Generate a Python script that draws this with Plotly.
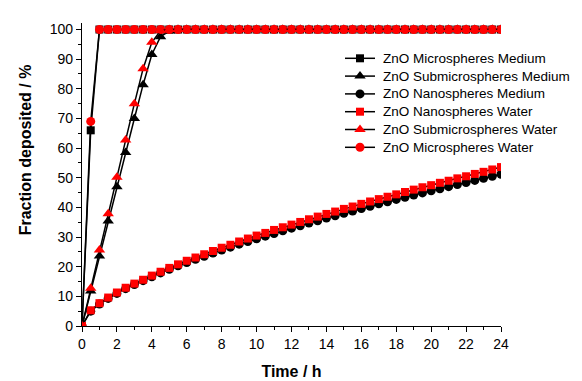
import plotly.graph_objects as go

time_h = [i * 0.5 for i in range(49)]

micro_medium = [0, 66] + [100] * 47
micro_water = [0, 69] + [100] * 47

submicro_medium = [0, 11.8, 23.6, 35.4, 47.0, 58.5, 70.0, 81.4, 91.6, 97.6, 99.5] + [100] * 38
submicro_water = [0, 12.7, 25.6, 37.9, 50.2, 62.7, 75.0, 86.8, 95.7, 99.6] + [100] * 39

nano_water = [0, 5.3, 7.7, 9.6, 11.3, 12.9, 14.3, 15.6, 17.0, 18.3, 19.6, 20.8, 22.0, 23.1,
              24.2, 25.3, 26.4, 27.4, 28.5, 29.5, 30.5, 31.4, 32.4, 33.3, 34.2, 35.1, 36.0,
              36.9, 37.8, 38.6, 39.5, 40.3, 41.2, 42.0, 42.8, 43.6, 44.4, 45.2, 46.0, 46.8,
              47.5, 48.3, 49.0, 49.8, 50.5, 51.3, 52.0, 52.8, 53.6]
nano_medium = [0, 5.0, 7.4, 9.3, 11.0, 12.6, 14.0, 15.3, 16.6, 17.9, 19.1, 20.3, 21.4, 22.5,
               23.5, 24.6, 25.6, 26.6, 27.6, 28.5, 29.4, 30.3, 31.2, 32.1, 33.0, 33.8, 34.7,
               35.5, 36.4, 37.2, 38.0, 38.8, 39.6, 40.4, 41.2, 41.9, 42.7, 43.4, 44.2, 44.9,
               45.6, 46.3, 47.0, 47.7, 48.4, 49.1, 49.8, 50.5, 51.2]

series_names = ["ZnO Microspheres Medium", "ZnO Submicrospheres Medium", "ZnO Nanospheres Medium",
                "ZnO Nanospheres Water", "ZnO Submicrospheres Water", "ZnO Microspheres Water"]
series_values = [micro_medium, submicro_medium, nano_medium, nano_water, submicro_water, micro_water]
series_symbols = ["square", "triangle-up", "circle", "square", "triangle-up", "circle"]
series_colors = ["black", "black", "black", "#ff0000", "#ff0000", "#ff0000"]
draw_order = [0, 1, 2, 3, 5, 4]
symbol_sizes = {"square": 8, "triangle-up": 10, "circle": 9}

FONT = "Liberation Sans, Arial"

fig = go.Figure()
for k in draw_order:
    sym = series_symbols[k]
    fig.add_trace(go.Scatter(
        x=time_h, y=series_values[k], name=series_names[k], mode="lines+markers",
        line=dict(color="black", width=1.5),
        marker=dict(symbol=sym, color=series_colors[k], size=symbol_sizes[sym], line=dict(width=0)),
        showlegend=False,
    ))

# custom legend on an overlay axis measured in page pixels
PL, PR, PT, PB = 82, 501, 23, 326
leg_x0, leg_x1, leg_text_x = 345, 375, 381
leg_y0, leg_dy = 58.3, 17.8
for i, (name, sym, col) in enumerate(zip(series_names, series_symbols, series_colors)):
    yy = leg_y0 + i * leg_dy
    fig.add_trace(go.Scatter(
        x=[leg_x0, (leg_x0 + leg_x1) / 2, leg_x1], y=[yy, yy, yy],
        xaxis="x2", yaxis="y2", mode="lines", line=dict(color="black", width=1.5),
        showlegend=False, hoverinfo="skip"))
    fig.add_trace(go.Scatter(
        x=[(leg_x0 + leg_x1) / 2], y=[yy], xaxis="x2", yaxis="y2", mode="markers",
        marker=dict(symbol=sym, color=col, size=symbol_sizes[sym], line=dict(width=0)),
        showlegend=False, hoverinfo="skip"))
    fig.add_annotation(x=leg_text_x, y=yy, xref="x2", yref="y2", text=name,
                       showarrow=False, xanchor="left", yanchor="middle",
                       font=dict(family=FONT, size=13.5, color="black"))

axis_common = dict(
    showline=True, linecolor="black", linewidth=1.2, mirror=False,
    ticks="outside", ticklen=5, tickwidth=1, tickcolor="black",
    showgrid=False, zeroline=False, automargin=False,
    tickfont=dict(family=FONT, size=14, color="black"),
)

fig.add_annotation(x=-0.136, y=0.58, xref="paper", yref="paper",
                   text="<b>Fraction deposited / %</b>", textangle=-90, showarrow=False,
                   xanchor="center", yanchor="middle",
                   font=dict(family=FONT, size=16, color="black"))

fig.update_layout(
    width=582, height=381,
    margin=dict(l=PL, r=582 - PR, t=PT, b=381 - PB),
    plot_bgcolor="white", paper_bgcolor="white",
    font=dict(family=FONT, color="black"),
    xaxis=dict(range=[0, 24], dtick=2, tick0=0,
               minor=dict(dtick=1, ticks="outside", ticklen=3, tickcolor="black"),
               title=dict(text="<b>Time / h</b>", font=dict(size=16), standoff=14),
               **axis_common),
    yaxis=dict(range=[0, 102.2], dtick=10, tick0=0,
               minor=dict(dtick=5, ticks="outside", ticklen=3, tickcolor="black"),
               **axis_common),
    xaxis2=dict(range=[PL, PR], overlaying="x", visible=False, fixedrange=True, automargin=False),
    yaxis2=dict(range=[PB, PT], overlaying="y", visible=False, fixedrange=True, automargin=False),
    showlegend=False,
)

fig.write_html("out.html")
